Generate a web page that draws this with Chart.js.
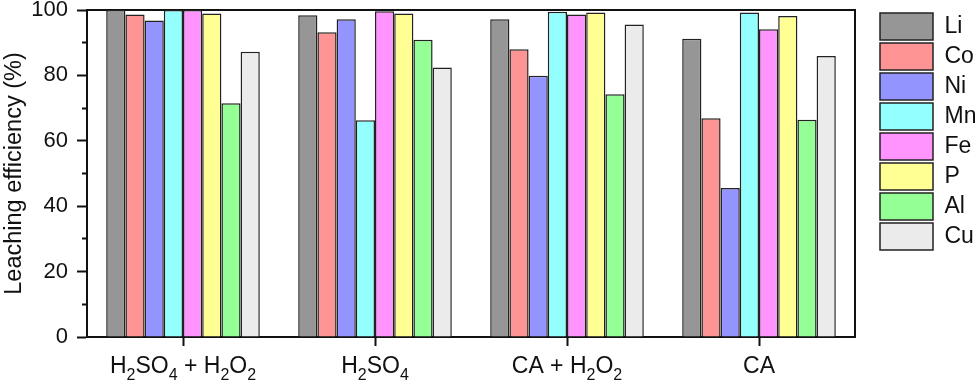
<!DOCTYPE html>
<html>
<head>
<meta charset="utf-8">
<script src="https://cdn.jsdelivr.net/npm/chart.js@4.4.1/dist/chart.umd.min.js"></script>
<style>
  html, body { margin: 0; padding: 0; background: #fff; }
  #wrap { width: 975px; height: 382px; }
</style>
</head>
<body>
<div id="wrap"><canvas id="leachChart" width="975" height="382"></canvas></div>
<script>
// Leaching conditions (x categories)
const categories = ['H₂SO₄ + H₂O₂', 'H₂SO₄', 'CA + H₂O₂', 'CA'];

// Leaching efficiency (%) per element, one value per condition
const li = [100, 98.4, 97.2, 91.2];
const co = [98.6, 93.2, 88.0, 66.9];
const ni = [96.8, 97.2, 79.9, 45.6];
const mn = [100, 66.3, 99.5, 99.2];
const fe = [100, 99.6, 98.6, 94.1];
const p  = [98.9, 98.9, 99.2, 98.2];
const al = [71.5, 90.9, 74.2, 66.4];
const cu = [87.2, 82.4, 95.6, 85.9];

const elements = ['Li', 'Co', 'Ni', 'Mn', 'Fe', 'P', 'Al', 'Cu'];
const seriesValues = [li, co, ni, mn, fe, p, al, cu];
const fillColors = ['#969696', '#ff9494', '#9494ff', '#94ffff', '#ff94ff', '#ffff94', '#94ff94', '#ebebeb'];

const yTicks = [0, 20, 40, 60, 80, 100];

const FONT = "'Liberation Sans', Arial, sans-serif";
const INK = '#111';

// draws the category labels with real subscripts under each tick
const subLabels = {
  id: 'subLabels',
  afterDraw(chart) {
    const ctx = chart.ctx;
    const xs = chart.scales.x;
    const subs = { '₀': '0', '₁': '1', '₂': '2', '₃': '3', '₄': '4' };
    const base = chart.chartArea.bottom + 36;
    ctx.save();
    ctx.fillStyle = INK;
    ctx.textBaseline = 'alphabetic';
    ctx.textAlign = 'left';
    chart.data.labels.forEach((lbl, i) => {
      // split into runs of normal and subscript characters
      const parts = [];
      for (const ch of lbl) {
        const isSub = ch in subs;
        const last = parts[parts.length - 1];
        if (last && last.sub === isSub) last.text += isSub ? subs[ch] : ch;
        else parts.push({ sub: isSub, text: isSub ? subs[ch] : ch });
      }
      let total = 0;
      parts.forEach(pt => {
        ctx.font = (pt.sub ? '16px ' : '23px ') + FONT;
        pt.w = ctx.measureText(pt.text).width;
        total += pt.w;
      });
      let x = xs.getPixelForValue(i) - total / 2;
      parts.forEach(pt => {
        ctx.font = (pt.sub ? '16px ' : '23px ') + FONT;
        ctx.fillText(pt.text, x, pt.sub ? base + 7 : base);
        x += pt.w;
      });
    });
    ctx.restore();
  }
};

function createChart() {
  const ctx = document.getElementById('leachChart').getContext('2d');
  new Chart(ctx, {
    type: 'bar',
    data: {
      labels: categories,
      datasets: elements.map((name, k) => ({
        label: name,
        data: seriesValues[k],
        backgroundColor: fillColors[k],
        borderColor: '#222',
        borderWidth: 1.5,
        borderSkipped: 'bottom',
        categoryPercentage: 0.8,
        barPercentage: 1.0
      }))
    },
    options: {
      responsive: false,
      animation: false,
      layout: { padding: { top: 10, right: 0, bottom: 0, left: 0 } },
      scales: {
        x: {
          type: 'category',
          position: 'bottom',
          offset: true,
          grid: {
            offset: false,
            drawOnChartArea: false,
            drawTicks: true,
            tickLength: 9,
            tickWidth: 2,
            tickColor: INK
          },
          border: { display: true, color: INK, width: 2 },
          ticks: { display: false },
          afterFit: scale => { scale.height = 45; }
        },
        x2: {
          type: 'category',
          position: 'top',
          labels: categories,
          grid: { display: false, drawTicks: false },
          border: { display: true, color: INK, width: 2 },
          ticks: { display: false },
          afterFit: scale => { scale.height = 0; }
        },
        y: {
          position: 'left',
          min: 0,
          max: 100,
          ticks: {
            stepSize: 10,
            padding: 9,
            color: INK,
            font: { family: FONT, size: 22 },
            callback: v => (yTicks.includes(v) ? String(v) : '')
          },
          grid: {
            drawOnChartArea: false,
            drawTicks: true,
            tickLength: 10,
            tickWidth: 2,
            tickColor: INK,
            tickBorderDash: c => (c.tick && c.tick.value % 20 !== 0 ? [0, 5, 5, 0] : [])
          },
          border: { display: true, color: INK, width: 2 },
          title: {
            display: true,
            text: 'Leaching efficiency (%)',
            color: INK,
            font: { family: FONT, size: 23.5 },
            padding: 0
          },
          afterFit: scale => {
            scale.width = 87;
            scale.paddingTop = 0;
            scale.paddingBottom = 0;
          }
        },
        y2: {
          position: 'right',
          min: 0,
          max: 100,
          grid: { display: false, drawTicks: false },
          border: { display: true, color: INK, width: 2 },
          ticks: { display: false },
          afterFit: scale => { scale.width = 22; }
        }
      },
      plugins: {
        legend: {
          position: 'right',
          align: 'start',
          maxWidth: 98,
          labels: {
            boxWidth: 53,
            boxHeight: 27,
            padding: 3,
            color: INK,
            font: { family: FONT, size: 23 }
          }
        },
        tooltip: { enabled: false }
      }
    },
    plugins: [subLabels]
  });
}

createChart();
</script>
</body>
</html>
